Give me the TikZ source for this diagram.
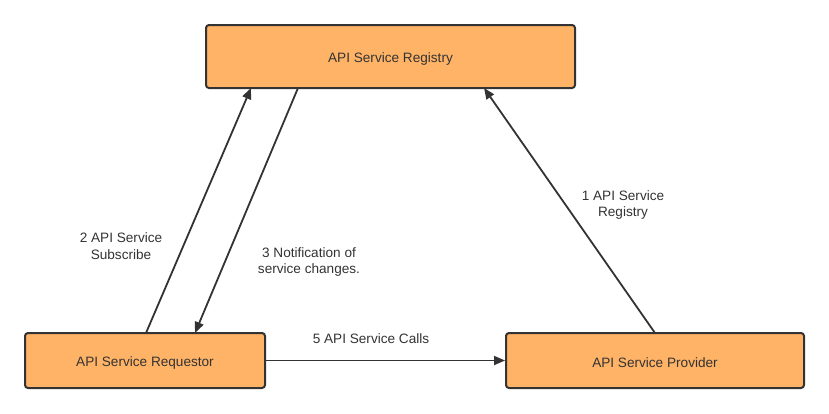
\documentclass[tikz,border=0pt]{standalone}
\usepackage{fontspec}
\setmainfont{Liberation Sans}
\usetikzlibrary{arrows.meta}
\definecolor{boxfill}{HTML}{FFB366}
\definecolor{ink}{HTML}{333333}
\newcommand{\boxtext}[1]{\raisebox{-2pt}[\height][\depth]{#1}}
\begin{document}
\begin{tikzpicture}[x=1pt,y=-1pt,
  box/.style={draw=ink,line width=2pt,fill=boxfill,rounded corners=3pt,inner sep=0pt,text=ink,font=\fontsize{13.6}{15}\selectfont},
  conn/.style={draw=ink,line width=1.8pt,-{Triangle[length=11pt,width=9pt]}},
  lbl/.style={text=ink,font=\fontsize{13.6}{16.5}\selectfont,align=center}]
\useasboundingbox (0,0) rectangle (829,413);
\node[box,minimum width=369pt,minimum height=63pt] (reg) at (390.5,56.5) {\boxtext{API Service Registry}};
\node[box,minimum width=240pt,minimum height=55pt] (req) at (145,360.5) {\boxtext{API Service Requestor}};
\node[box,minimum width=298pt,minimum height=55pt] (prov) at (655,360.5) {\boxtext{API Service Provider}};
\coordinate (a1) at (146,333);
\coordinate (a2) at (251,88);
\coordinate (b1) at (298,88);
\coordinate (b2) at (195,333);
\coordinate (c1) at (655,333);
\coordinate (c2) at (484,88);
\draw[conn] (a1) -- (a2);
\draw[conn] (b1) -- (b2);
\draw[conn] (c1) -- (c2);
\draw[conn] (req.east) -- (prov.west);
\node[lbl] (l2) at (121,246) {2 API Service\\Subscribe};
\node[lbl] (l3) at (309,262) {3 Notification of\\service changes.};
\node[lbl] (l1) at (623,205) {1 API Service\\Registry};
\node[lbl] (l5) at (371,339) {5 API Service Calls};
\end{tikzpicture}
\end{document}
